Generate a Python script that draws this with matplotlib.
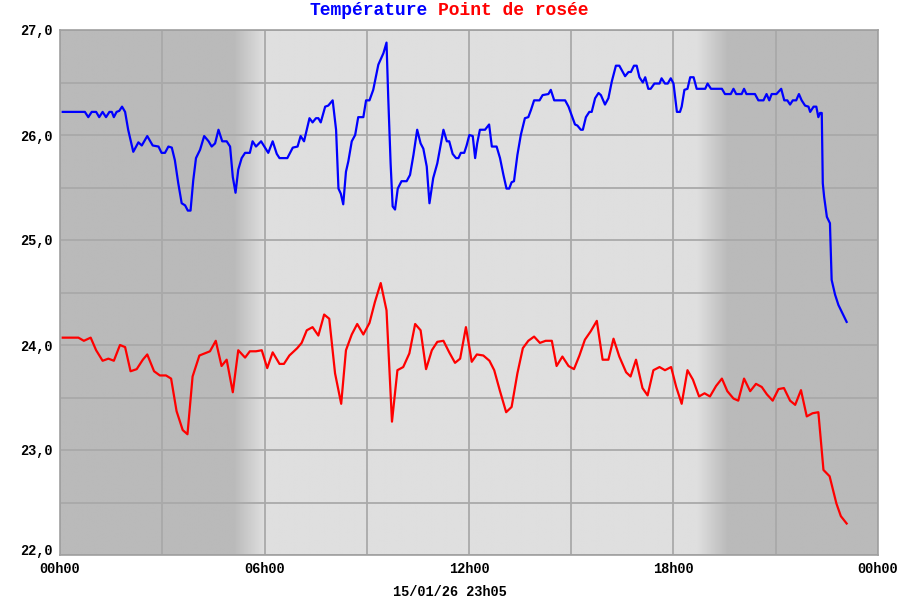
import numpy as np
import matplotlib
matplotlib.use("Agg")
import matplotlib.pyplot as plt
import matplotlib.transforms as mtransforms

# temperature (blue), hours since midnight / degrees
tempHours = [0.08, 0.73, 0.83, 0.93, 1.06, 1.15, 1.25, 1.35, 1.45, 1.52, 1.58, 1.66, 1.74, 1.82,
             1.91, 2.00, 2.15, 2.30, 2.40, 2.56, 2.72, 2.89, 2.98, 3.08, 3.18, 3.28, 3.37, 3.47,
             3.57, 3.67, 3.75, 3.83, 3.91, 3.99, 4.11, 4.23, 4.36, 4.45, 4.55, 4.65, 4.76, 4.89,
             4.99, 5.07, 5.15, 5.23, 5.33, 5.43, 5.57, 5.65, 5.75, 5.90, 6.11, 6.24, 6.36, 6.44,
             6.67, 6.83, 6.97, 7.06, 7.16, 7.32, 7.41, 7.51, 7.58, 7.65, 7.78, 7.87, 8.00, 8.10,
             8.17, 8.24, 8.31, 8.39, 8.46, 8.56, 8.66, 8.75, 8.90, 8.98, 9.08, 9.19, 9.34, 9.49,
             9.58, 9.63, 9.70, 9.76, 9.83, 9.91, 10.02, 10.17, 10.27, 10.37, 10.48, 10.58, 10.66,
             10.76, 10.84, 10.95, 11.07, 11.25, 11.35, 11.42, 11.52, 11.62, 11.69, 11.76, 11.86,
             11.93, 12.01, 12.11, 12.18, 12.24, 12.32, 12.47, 12.59, 12.67, 12.81, 12.91, 13.01,
             13.10, 13.18, 13.25, 13.32, 13.42, 13.52, 13.64, 13.74, 13.82, 13.91, 14.07, 14.16,
             14.33, 14.40, 14.50, 14.82, 14.92, 15.01, 15.11, 15.18, 15.28, 15.34, 15.43, 15.53,
             15.60, 15.70, 15.80, 15.87, 15.99, 16.09, 16.19, 16.31, 16.41, 16.58, 16.68, 16.75,
             16.84, 16.92, 17.00, 17.10, 17.17, 17.26, 17.33, 17.44, 17.59, 17.65, 17.75, 17.83,
             17.92, 18.00, 18.10, 18.19, 18.24, 18.32, 18.41, 18.49, 18.59, 18.68, 18.93, 19.00,
             19.10, 19.42, 19.51, 19.68, 19.76, 19.84, 20.00, 20.07, 20.14, 20.39, 20.49, 20.64,
             20.73, 20.81, 20.88, 21.02, 21.16, 21.25, 21.34, 21.42, 21.50, 21.60, 21.68, 21.76,
             21.86, 21.96, 22.01, 22.11, 22.19, 22.25, 22.30, 22.35, 22.38, 22.42, 22.50, 22.59,
             22.64, 22.74, 22.84, 23.08]
tempValues = [26.22, 26.22, 26.17, 26.22, 26.22, 26.17, 26.22, 26.17, 26.22, 26.22, 26.17, 26.22,
              26.23, 26.27, 26.22, 26.05, 25.84, 25.93, 25.90, 25.99, 25.90, 25.89, 25.83, 25.83,
              25.89, 25.88, 25.76, 25.54, 25.35, 25.33, 25.28, 25.28, 25.57, 25.78, 25.86, 25.99,
              25.94, 25.89, 25.92, 26.05, 25.94, 25.94, 25.89, 25.60, 25.45, 25.67, 25.78, 25.83,
              25.83, 25.94, 25.89, 25.94, 25.83, 25.94, 25.82, 25.78, 25.78, 25.88, 25.89, 25.99,
              25.94, 26.16, 26.12, 26.16, 26.16, 26.12, 26.27, 26.28, 26.33, 26.05, 25.49, 25.44,
              25.34, 25.65, 25.75, 25.94, 26.00, 26.17, 26.17, 26.33, 26.33, 26.43, 26.67, 26.78,
              26.88, 26.36, 25.73, 25.32, 25.29, 25.49, 25.56, 25.56, 25.62, 25.81, 26.05, 25.92,
              25.87, 25.70, 25.35, 25.59, 25.73, 26.05, 25.94, 25.94, 25.82, 25.78, 25.78, 25.83,
              25.83, 25.90, 26.00, 25.99, 25.78, 25.92, 26.05, 26.05, 26.10, 25.89, 25.89, 25.78,
              25.62, 25.49, 25.49, 25.55, 25.56, 25.81, 26.00, 26.16, 26.17, 26.24, 26.33, 26.33,
              26.38, 26.39, 26.43, 26.33, 26.33, 26.27, 26.19, 26.10, 26.09, 26.05, 26.05, 26.17,
              26.22, 26.22, 26.35, 26.40, 26.38, 26.29, 26.35, 26.51, 26.66, 26.66, 26.56, 26.60,
              26.60, 26.66, 26.66, 26.55, 26.50, 26.55, 26.44, 26.44, 26.49, 26.49, 26.54, 26.49,
              26.49, 26.54, 26.49, 26.22, 26.22, 26.27, 26.43, 26.44, 26.55, 26.55, 26.44, 26.44,
              26.49, 26.44, 26.44, 26.39, 26.39, 26.44, 26.39, 26.39, 26.44, 26.39, 26.39, 26.33,
              26.33, 26.39, 26.33, 26.39, 26.39, 26.44, 26.33, 26.33, 26.29, 26.33, 26.33, 26.39,
              26.33, 26.28, 26.27, 26.22, 26.27, 26.27, 26.17, 26.21, 26.21, 25.54, 25.41, 25.22,
              25.16, 24.62, 24.48, 24.38, 24.22]

# dew point (red)
dewHours = [0.08, 0.54, 0.70, 0.90, 1.06, 1.25, 1.42, 1.58, 1.76, 1.91, 2.07, 2.25, 2.43, 2.56,
            2.76, 2.93, 3.11, 3.26, 3.42, 3.60, 3.74, 3.89, 4.09, 4.40, 4.57, 4.74, 4.89, 5.07,
            5.23, 5.43, 5.57, 5.75, 5.92, 6.08, 6.24, 6.44, 6.57, 6.73, 6.96, 7.09, 7.24, 7.41,
            7.58, 7.75, 7.90, 8.07, 8.25, 8.39, 8.56, 8.72, 8.90, 9.08, 9.24, 9.41, 9.58, 9.74,
            9.90, 10.07, 10.25, 10.42, 10.58, 10.74, 10.91, 11.07, 11.25, 11.42, 11.59, 11.74,
            11.91, 12.08, 12.23, 12.42, 12.60, 12.74, 12.91, 13.09, 13.25, 13.42, 13.58, 13.74,
            13.91, 14.08, 14.25, 14.43, 14.57, 14.74, 14.92, 15.08, 15.24, 15.40, 15.57, 15.75,
            15.92, 16.09, 16.24, 16.41, 16.61, 16.74, 16.90, 17.09, 17.24, 17.41, 17.59, 17.75,
            17.93, 18.08, 18.24, 18.41, 18.57, 18.75, 18.91, 19.07, 19.25, 19.42, 19.58, 19.76,
            19.90, 20.07, 20.25, 20.42, 20.59, 20.74, 20.91, 21.08, 21.24, 21.42, 21.57, 21.74,
            21.91, 22.08, 22.25, 22.40, 22.58, 22.78, 22.91, 23.08]
dewValues = [24.07, 24.07, 24.04, 24.07, 23.95, 23.85, 23.87, 23.85, 24.00, 23.98, 23.75, 23.77,
             23.86, 23.91, 23.75, 23.71, 23.71, 23.68, 23.37, 23.19, 23.15, 23.70, 23.90, 23.94,
             24.04, 23.80, 23.86, 23.55, 23.95, 23.88, 23.94, 23.94, 23.95, 23.78, 23.93, 23.82,
             23.82, 23.90, 23.97, 24.02, 24.14, 24.17, 24.09, 24.29, 24.25, 23.73, 23.44, 23.95,
             24.10, 24.20, 24.10, 24.21, 24.41, 24.59, 24.33, 23.27, 23.76, 23.79, 23.92, 24.20,
             24.14, 23.77, 23.95, 24.03, 24.04, 23.93, 23.83, 23.87, 24.17, 23.84, 23.91, 23.90,
             23.85, 23.76, 23.56, 23.36, 23.41, 23.73, 23.97, 24.04, 24.08, 24.02, 24.04, 24.04,
             23.80, 23.89, 23.80, 23.77, 23.90, 24.05, 24.13, 24.23, 23.86, 23.86, 24.06, 23.89,
             23.74, 23.70, 23.86, 23.59, 23.52, 23.76, 23.79, 23.76, 23.79, 23.60, 23.44, 23.76,
             23.67, 23.51, 23.54, 23.51, 23.61, 23.68, 23.56, 23.49, 23.47, 23.68, 23.56, 23.63,
             23.60, 23.53, 23.47, 23.58, 23.59, 23.47, 23.43, 23.57, 23.32, 23.35, 23.36, 22.81,
             22.75, 22.49, 22.37, 22.30]

xTicks = [0, 6, 12, 18, 24]
xTickLabels = ["00h00", "06h00", "12h00", "18h00", "00h00"]
yTicks = [22, 23, 24, 25, 26, 27]
yTickLabels = ["22,0", "23,0", "24,0", "25,0", "26,0", "27,0"]
dateLabel = "15/01/26 23h05"

mono = "Liberation Mono"

fig = plt.figure(figsize=(9, 6), dpi=100)
ax = fig.add_axes([60 / 900, 45 / 600, 818 / 900, 525 / 600])

# night / day background (dark at night, light during daytime, soft transitions)
night, day = 186 / 255, 223 / 255
hh = np.linspace(0, 24, 1200)
shade = np.interp(hh, [0, 5.1, 6.0, 18.7, 19.6, 24], [night, night, day, day, night, night])
ax.imshow(np.tile(shade, (2, 1)), cmap="gray", vmin=0, vmax=1, aspect="auto",
          extent=[0, 24, 22, 27], interpolation="bilinear", zorder=0)

ax.set_xlim(0, 24)
ax.set_ylim(22, 27)
ax.set_xticks(np.arange(0, 25, 3))
ax.set_xticklabels([xTickLabels[xTicks.index(t)] if t in xTicks else "" for t in range(0, 25, 3)])
ax.set_yticks(np.arange(22, 27.01, 0.5))
ax.set_yticklabels([yTickLabels[yTicks.index(t)] if t in yTicks else "" for t in np.arange(22, 27.01, 0.5)])
ax.grid(True, color="#a9a9a9", linewidth=1.3, zorder=1)
ax.tick_params(length=0, labelsize=9.8, pad=5)
ax.tick_params(axis="x", pad=5)
for lab in ax.get_xticklabels() + ax.get_yticklabels():
    lab.set_fontfamily(mono)
    lab.set_fontweight("bold")
# lift the bottom "22,0" label a little so it clears the "00h00" below it
lowest = ax.get_yticklabels()[0]
lowest.set_transform(lowest.get_transform() + mtransforms.ScaledTranslation(0, 4 / 72, fig.dpi_scale_trans))
for s in ax.spines.values():
    s.set_color("#a0a0a0")
    s.set_linewidth(1.2)

ax.plot(tempHours, tempValues, color="#0000ff", linewidth=1.6, zorder=3)
ax.plot(dewHours, dewValues, color="#ff0000", linewidth=1.6, zorder=3)

fig.text(428 / 900, 1 - 15 / 600, "Température", color="#0000ff", ha="right", va="baseline",
         fontfamily=mono, fontweight="bold", fontsize=13)
fig.text(438 / 900, 1 - 15 / 600, "Point de rosée", color="#ff0000", ha="left", va="baseline",
         fontfamily=mono, fontweight="bold", fontsize=13)
fig.text(450 / 900, 1 - 592 / 600, dateLabel, ha="center", va="center",
         fontfamily=mono, fontweight="bold", fontsize=9.8)

fig.savefig("out.png", dpi=100)
